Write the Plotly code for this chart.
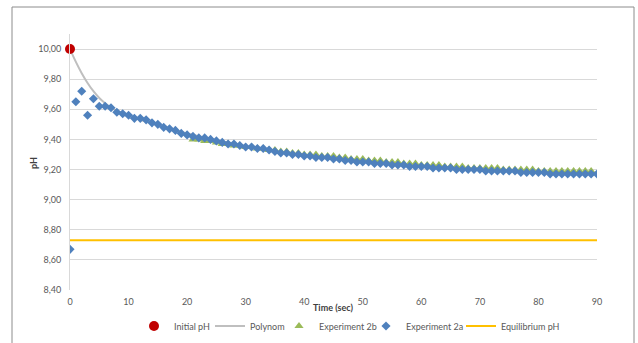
import plotly.graph_objects as go

# Time axis (seconds)
time_2a = list(range(0, 91))
ph_2a = [
    8.67, 9.65, 9.72, 9.56, 9.67, 9.62, 9.62, 9.61, 9.58, 9.57,
    9.56, 9.54, 9.54, 9.53, 9.51, 9.50, 9.48, 9.47, 9.46, 9.44,
    9.43, 9.42, 9.41, 9.41, 9.40, 9.39, 9.38, 9.37, 9.37, 9.36,
    9.35, 9.35, 9.34, 9.34, 9.33, 9.32, 9.31, 9.31, 9.30, 9.30,
    9.29, 9.29, 9.28, 9.28, 9.28, 9.27, 9.27, 9.26, 9.26, 9.25,
    9.25, 9.25, 9.24, 9.24, 9.24, 9.23, 9.23, 9.23, 9.22, 9.22,
    9.22, 9.22, 9.21, 9.21, 9.21, 9.21, 9.20, 9.20, 9.20, 9.20,
    9.20, 9.19, 9.19, 9.19, 9.19, 9.19, 9.19, 9.18, 9.18, 9.18,
    9.18, 9.18, 9.17, 9.17, 9.17, 9.17, 9.17, 9.17, 9.17, 9.17,
    9.17,
]

time_2b = list(range(21, 91))
ph_2b = [
    9.40, 9.40, 9.39, 9.39, 9.38, 9.37, 9.37, 9.36, 9.36,
    9.35, 9.35, 9.34, 9.34, 9.33, 9.33, 9.32, 9.32, 9.31, 9.31,
    9.30, 9.30, 9.30, 9.29, 9.29, 9.29, 9.28, 9.28, 9.27, 9.27,
    9.27, 9.26, 9.26, 9.26, 9.25, 9.25, 9.25, 9.24, 9.24, 9.24,
    9.23, 9.23, 9.23, 9.23, 9.22, 9.22, 9.22, 9.22, 9.21, 9.21,
    9.21, 9.21, 9.21, 9.21, 9.20, 9.20, 9.20, 9.20, 9.20, 9.20,
    9.19, 9.19, 9.19, 9.19, 9.19, 9.19, 9.19, 9.19, 9.19, 9.19,
]

# Fitted trend curve, sampled
poly_t = [0, 1, 2, 3, 4, 5, 6, 7, 8, 9, 10, 12, 15, 20, 25, 30, 40, 50, 60, 70, 80, 90]
poly_ph = [10.00, 9.915, 9.84, 9.775, 9.72, 9.675, 9.64, 9.612, 9.59, 9.575, 9.56,
           9.53, 9.495, 9.44, 9.395, 9.355, 9.29, 9.255, 9.225, 9.205, 9.185, 9.17]

initial_t = [0]
initial_ph = [10.00]

equilibrium_t = [0, 90]
equilibrium_ph = [8.73, 8.73]

y_ticks = [8.4, 8.6, 8.8, 9.0, 9.2, 9.4, 9.6, 9.8, 10.0]
x_ticks = [0, 10, 20, 30, 40, 50, 60, 70, 80, 90]

FONT = "Lato, 'Open Sans', sans-serif"
GREY_TXT = "#595959"
TITLE_TXT = "#404040"
GRID = "#D9D9D9"

# Figure geometry (px)
W, H = 638, 343
M_L, M_R, M_T, M_B = 70, 41, 34, 53
PLOT_W = W - M_L - M_R
PLOT_H = H - M_T - M_B


def px_to_paper_x(px):
    return (px - M_L) / PLOT_W


def px_to_paper_y(py):
    return (H - M_B - py) / PLOT_H


fig = go.Figure()

fig.add_trace(go.Scatter(
    x=equilibrium_t, y=equilibrium_ph, mode="lines", name="Equilibrium pH",
    line=dict(color="#FFC000", width=2), legend="legend5",
))
fig.add_trace(go.Scatter(
    x=poly_t, y=poly_ph, mode="lines", name="Polynom",
    line=dict(color="#BFBFBF", width=2, shape="spline", smoothing=1.0), legend="legend2",
))
fig.add_trace(go.Scatter(
    x=time_2b, y=ph_2b, mode="markers", name="Experiment 2b",
    marker=dict(symbol="triangle-up", size=8, color="#9BBB59"), legend="legend3",
))
fig.add_trace(go.Scatter(
    x=time_2a, y=ph_2a, mode="markers", name="Experiment 2a",
    marker=dict(symbol="diamond", size=7, color="#4F81BD"), legend="legend4",
))
fig.add_trace(go.Scatter(
    x=initial_t, y=initial_ph, mode="markers", name="Initial pH",
    marker=dict(symbol="circle", size=10, color="#C00000"), legend="legend",
    cliponaxis=False,
))

# one small legend per entry so the keys sit in a single tight row;
# values are the pixel centres of each key symbol
legend_key_px = [154, 230, 299, 386, 481]
legend_y = px_to_paper_y(326)
legend_common = dict(
    orientation="h", xanchor="left", yanchor="middle", y=legend_y,
    font=dict(size=9, color=GREY_TXT, family=FONT), itemwidth=30,
    bgcolor="rgba(0,0,0,0)", borderwidth=0,
)
legend_layout = {}
for i, kx in enumerate(legend_key_px):
    key = "legend" if i == 0 else f"legend{i + 1}"
    legend_layout[key] = dict(legend_common, x=px_to_paper_x(kx - 20))

fig.update_layout(
    width=W, height=H,
    margin=dict(l=M_L, r=M_R, t=M_T, b=M_B, autoexpand=False),
    paper_bgcolor="white", plot_bgcolor="white",
    separators=",.",
    font=dict(family=FONT, size=9, color=GREY_TXT),
    showlegend=True,
    xaxis=dict(
        range=[0, 90], tickvals=x_ticks, showgrid=False, zeroline=False,
        showline=False, ticks="", tickfont=dict(size=9, color=GREY_TXT),
        ticklabelstandoff=5,
    ),
    yaxis=dict(
        range=[8.4, 10.1], tickvals=y_ticks, tickformat=".2f",
        showgrid=True, gridcolor=GRID, gridwidth=1, zeroline=False,
        showline=True, linecolor=GRID, linewidth=1, ticks="",
        tickfont=dict(size=9, color=GREY_TXT), ticklabelstandoff=6,
    ),
    annotations=[
        dict(text="<b>Time (sec)</b>", xref="paper", yref="paper",
             x=px_to_paper_x(333), y=px_to_paper_y(307),
             xanchor="center", yanchor="middle", showarrow=False,
             font=dict(size=9, color=TITLE_TXT, family=FONT)),
        dict(text="<b>pH</b>", xref="paper", yref="paper",
             x=px_to_paper_x(33), y=px_to_paper_y(163),
             xanchor="center", yanchor="middle", showarrow=False, textangle=-90,
             font=dict(size=9, color=TITLE_TXT, family=FONT)),
    ],
    shapes=[
        dict(type="rect", xref="paper", yref="paper",
             x0=px_to_paper_x(12), x1=px_to_paper_x(634),
             y0=px_to_paper_y(360), y1=px_to_paper_y(7),
             line=dict(color="#8C8C8C", width=1), fillcolor="rgba(0,0,0,0)", layer="below"),
    ],
    **legend_layout,
)

fig.write_html("out.html")
